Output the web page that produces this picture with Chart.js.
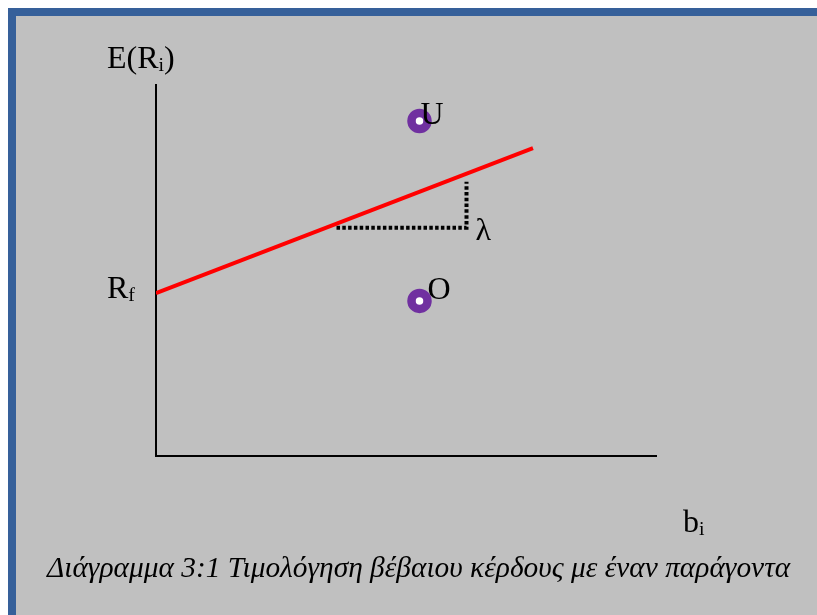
<!DOCTYPE html>
<html lang="el">
<head>
<meta charset="UTF-8">
<title>Διάγραμμα 3:1</title>
<script src="https://cdn.jsdelivr.net/npm/chart.js"></script>
<style>
  html, body { margin: 0; padding: 0; background: #fff; }
  .frame {
    position: absolute; left: 8px; top: 8px;
    width: 801px; height: 599px;
    border-left: 8px solid #36609a; border-top: 8px solid #36609a;
    background: #c0c0c0;
  }
  #chart { position: absolute; left: 0; top: 0; }
</style>
</head>
<body>
<div class="frame"></div>
<canvas id="chart" width="817" height="615"></canvas>
<script>
// security market line: E(R) = Rf + λ·b
const riskFree = 4.39;
const smlX = [0, 7.54];
const smlY = [riskFree, 8.30];

// λ step under the line
const lambdaX = [3.61, 6.21, 6.21];
const lambdaY = [6.15, 6.15, 7.39];

// under / over priced assets
const assetNames = ['U', 'O'];
const assetX = [5.27, 5.27];
const assetY = [9.03, 4.18];

const caption = 'Διάγραμμα 3:1 Τιμολόγηση βέβαιου κέρδους με έναν παράγοντα';
const serif = "'Liberation Serif', 'Times New Roman', serif";

const toPoints = (xs, ys) => xs.map((x, i) => ({ x: x, y: ys[i] }));

// text with optional subscript parts: [['E(R'], ['i', true], [')']]
function drawParts(ctx, parts, x, y, size) {
  let cx = x;
  parts.forEach(([t, sub]) => {
    const s = sub ? size * 0.62 : size;
    ctx.font = s + 'px ' + serif;
    ctx.fillText(t, cx, sub ? y + 3 : y);
    cx += ctx.measureText(t).width;
  });
}

const labelPlugin = {
  id: 'labels',
  afterDatasetsDraw(chart) {
    const { ctx, chartArea: area, scales: { x, y } } = chart;
    ctx.save();
    ctx.fillStyle = '#000';
    ctx.textAlign = 'left';
    ctx.textBaseline = 'alphabetic';
    const fs = 32;

    drawParts(ctx, [['E(R'], ['i', true], [')']], area.left - 49, area.top - 17, fs);
    drawParts(ctx, [['R'], ['f', true]], area.left - 49, y.getPixelForValue(riskFree) + 5, fs);
    drawParts(ctx, [['b'], ['i', true]], area.right + 27, area.bottom + 76, fs);

    // asset names next to their points
    ctx.font = fs + 'px ' + serif;
    ctx.fillText(assetNames[0], x.getPixelForValue(assetX[0]) + 1, y.getPixelForValue(assetY[0]) + 3);
    ctx.fillText(assetNames[1], x.getPixelForValue(assetX[1]) + 8, y.getPixelForValue(assetY[1]) - 2);

    // λ beside the step corner
    ctx.fillText('λ', x.getPixelForValue(lambdaX[1]) + 9, y.getPixelForValue(lambdaY[1]) + 12);

    ctx.font = 'italic 29.4px ' + serif;
    ctx.fillText(caption, 47, 577);
    ctx.restore();
  }
};

const hiddenAxis = (max) => ({
  type: 'linear',
  min: 0,
  max: max,
  ticks: { display: false },
  grid: { display: false, drawTicks: false, tickLength: 0 },
  border: { display: true, color: '#000', width: 2 }
});

new Chart(document.getElementById('chart'), {
  type: 'scatter',
  data: {
    datasets: [
      {
        label: 'SML',
        data: toPoints(smlX, smlY),
        showLine: true,
        borderColor: '#ff0000',
        borderWidth: 4,
        pointRadius: 0
      },
      {
        label: 'λ',
        data: toPoints(lambdaX, lambdaY),
        showLine: true,
        borderColor: '#000',
        borderWidth: 4,
        borderDash: [3.5, 2.3],
        borderCapStyle: 'butt',
        pointRadius: 0
      },
      {
        label: 'assets',
        data: toPoints(assetX, assetY),
        pointRadius: 8,
        pointBorderWidth: 8.5,
        pointBackgroundColor: '#fff',
        pointBorderColor: '#7030a0'
      }
    ]
  },
  options: {
    responsive: false,
    animation: false,
    layout: { padding: { left: 156, top: 85, right: 161, bottom: 159 } },
    plugins: {
      legend: { display: false },
      tooltip: { enabled: false }
    },
    scales: {
      x: hiddenAxis(10),
      y: hiddenAxis(10)
    }
  },
  plugins: [labelPlugin]
});
</script>
</body>
</html>
